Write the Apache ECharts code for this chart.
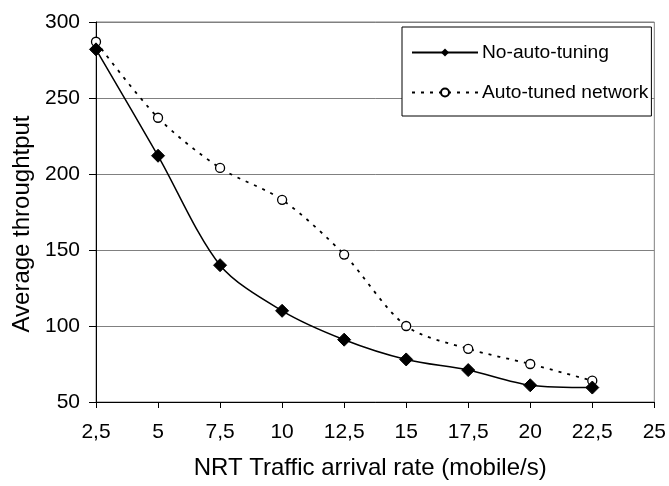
<!DOCTYPE html>
<html>
<head>
<meta charset="utf-8">
<script src="https://cdn.jsdelivr.net/npm/echarts@6/dist/echarts.min.js"></script>
<style>
html,body{margin:0;padding:0;background:#fff;}
#chart{width:669px;height:486px;}
</style>
</head>
<body>
<div id="chart"></div>
<script>
var xValues = [2.5, 5, 7.5, 10, 12.5, 15, 17.5, 20, 22.5];
var noAutoTuning = [282, 212, 140, 110, 91, 78, 71, 61, 59.5];
var autoTuned = [287, 237, 204, 183, 147, 100, 85, 75, 64];
var seriesNames = ['No-auto-tuning', 'Auto-tuned network'];
var xAxisTitle = 'NRT Traffic arrival rate (mobile/s)';
var yAxisTitle = 'Average throughtput';

function pairs(xs, ys) { return xs.map(function (x, i) { return [x, ys[i]]; }); }

var FONT = 'Arial, "Liberation Sans", sans-serif';
var chart = echarts.init(document.getElementById('chart'), null, {renderer: 'canvas'});
chart.setOption({
  backgroundColor: '#fff',
  animation: false,
  grid: {left: 96, right: 14, top: 22, bottom: 84, show: true, borderColor: '#808080', borderWidth: 1},
  legend: {
    orient: 'vertical', left: 402, top: 27,
    padding: [16, 3, 14, 9],
    borderColor: '#000', borderWidth: 1, backgroundColor: '#fff',
    itemWidth: 66, itemHeight: 10, itemGap: 21,
    textStyle: {fontFamily: FONT, fontSize: 19.2, color: '#000', padding: [0, 0, 0, -1]},
    data: seriesNames
  },
  xAxis: {
    type: 'value', min: 2.5, max: 25, interval: 2.5,
    name: xAxisTitle, nameLocation: 'middle', nameGap: 54,
    nameTextStyle: {fontFamily: FONT, fontSize: 24, color: '#000', padding: [0, 10, 0, 0]},
    axisLine: {lineStyle: {color: '#000', width: 1}},
    axisTick: {show: true, length: 6, lineStyle: {color: '#000'}},
    axisLabel: {fontFamily: FONT, fontSize: 21, color: '#000', margin: 20,
      formatter: function (v) { return String(v).replace('.', ','); }},
    splitLine: {show: false}
  },
  yAxis: {
    type: 'value', min: 50, max: 300, interval: 50,
    name: yAxisTitle, nameLocation: 'middle', nameGap: 59,
    nameTextStyle: {fontFamily: FONT, fontSize: 24, color: '#000', padding: [0, 24, 0, 0]},
    axisLine: {show: true, lineStyle: {color: '#000', width: 1}},
    axisTick: {show: true, length: 7, lineStyle: {color: '#000'}},
    axisLabel: {fontFamily: FONT, fontSize: 21, color: '#000', margin: 16},
    splitLine: {show: true, lineStyle: {color: '#808080', width: 1}}
  },
  series: [
    {
      name: seriesNames[0], type: 'line', smooth: 0.3,
      data: pairs(xValues, noAutoTuning),
      symbol: 'diamond', symbolSize: 13,
      lineStyle: {color: '#000', width: 1.5},
      itemStyle: {color: '#000', borderColor: '#000'},
      z: 3
    },
    {
      name: seriesNames[1], type: 'line', smooth: 0.3,
      data: pairs(xValues, autoTuned),
      symbol: 'circle', symbolSize: 9,
      lineStyle: {color: '#000', width: 1.8, type: [3, 6]},
      itemStyle: {color: '#fff', borderColor: '#000', borderWidth: 1.3},
      z: 2
    }
  ]
});
</script>
</body>
</html>
